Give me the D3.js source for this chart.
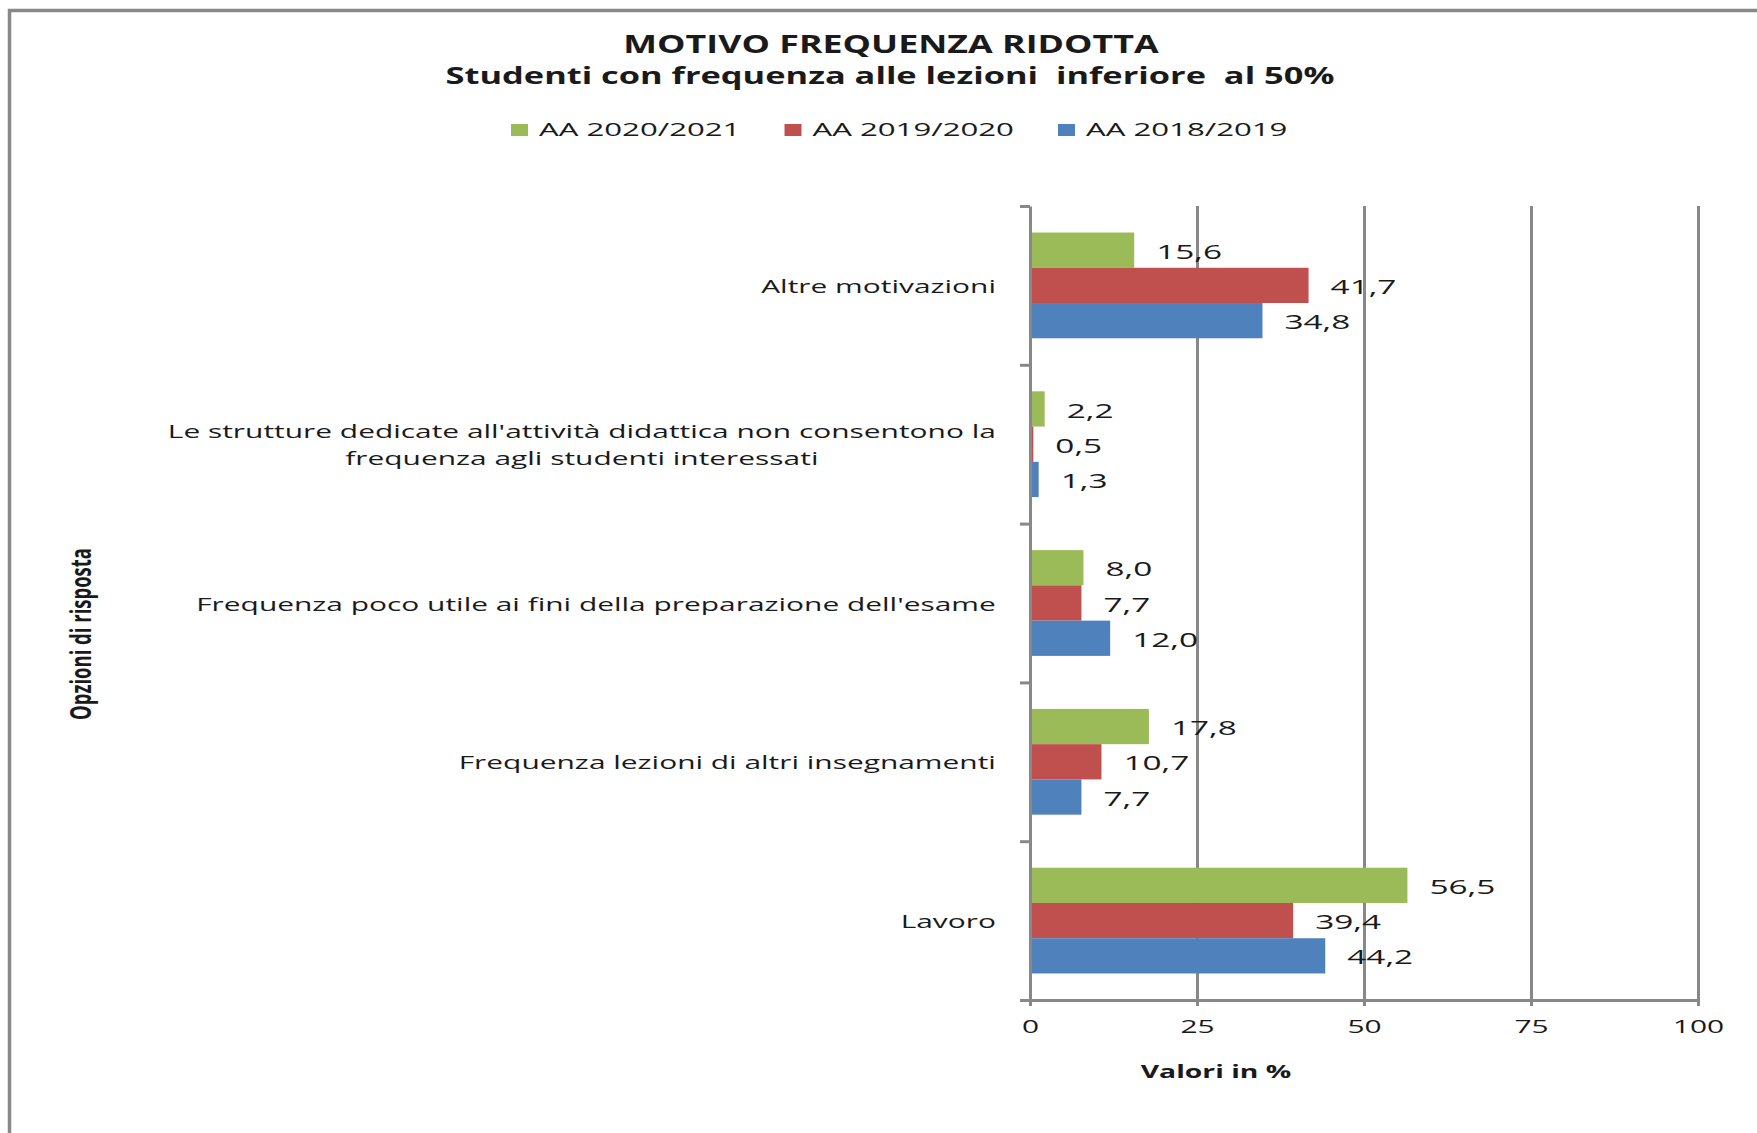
<!DOCTYPE html>
<html>
<head>
<meta charset="utf-8">
<script src="https://cdn.jsdelivr.net/npm/d3@7"></script>
<style>
  body { margin: 0; background: #fff; }
  text { font-family: "Open Sans", sans-serif; fill: #1a1a1a; }
</style>
</head>
<body>
<div id="target"></div>
<script>
const categories = [
  "Altre motivazioni",
  "Le strutture dedicate all'attività didattica non consentono la\nfrequenza agli studenti interessati",
  "Frequenza poco utile ai fini della preparazione dell'esame",
  "Frequenza lezioni di altri insegnamenti",
  "Lavoro"
];
const seriesNames = ["AA 2020/2021", "AA 2019/2020", "AA 2018/2019"];
const seriesColors = ["#9bbb59", "#c0504d", "#4f81bd"];
const aa2021 = [15.6, 2.2, 8.0, 17.8, 56.5];
const aa2020 = [41.7, 0.5, 7.7, 10.7, 39.4];
const aa2019 = [34.8, 1.3, 12.0, 7.7, 44.2];
const xTicks = [0, 25, 50, 75, 100];

const W = 1757, H = 1133;
const margin = {top: 206, right: 59, bottom: 133, left: 1030},
  width = W - margin.left - margin.right,
  height = H - margin.top - margin.bottom;

let svg = d3.select("#target").append("svg")
  .attr("width", W)
  .attr("height", H);

// the picture is stretched sideways, so measure once and stretch all text the same way
let probe = svg.append("text").style("font-size", "19px").text(categories[2]);
const SX = 800 / probe.node().getComputedTextLength();
probe.remove();

const fmt = d3.formatLocale({decimal: ",", thousands: ".", grouping: [3], currency: ["", "€"]}).format(".1f");

// frame (only top and left visible)
svg.append("path")
  .attr("d", `M9.5,${H} V10.5 H${W}`)
  .attr("fill", "none").attr("stroke", "#888").attr("stroke-width", 3.5);

const data = categories.map((c, i) => ({cat: c, values: [aa2021[i], aa2020[i], aa2019[i]]}));

let x = d3.scaleLinear().domain([0, 100]).range([0, width]);
let y = d3.scaleBand().domain(categories).range([0, height])
  .paddingInner(0.334).paddingOuter(0.167);
let y1 = d3.scaleBand().domain(seriesNames).range([0, y.bandwidth()]);
let yb = d3.scaleLinear().domain([0, categories.length]).range([0, height]);

let g = svg.append("g").attr("transform", `translate(${margin.left},${margin.top})`);

// gridlines
g.append("g")
  .attr("class", "grid")
  .attr("transform", `translate(0,${height})`)
  .call(d3.axisBottom(x).tickValues(xTicks.slice(1)).tickSize(-height).tickFormat(""))
  .call(s => s.select(".domain").remove())
  .selectAll("line").attr("stroke", "#888").attr("stroke-width", 3);

// bars
let groups = g.selectAll(".cat").data(data).enter().append("g")
  .attr("transform", d => `translate(0,${y(d.cat)})`);

groups.selectAll("rect")
  .data(d => d.values.map((v, k) => ({v: v, k: k})))
  .enter().append("rect")
  .attr("x", 0)
  .attr("y", d => y1(seriesNames[d.k]))
  .attr("width", d => x(d.v))
  .attr("height", y1.bandwidth())
  .attr("fill", d => seriesColors[d.k]);

groups.selectAll(".val")
  .data(d => d.values.map((v, k) => ({v: v, k: k})))
  .enter().append("text")
  .attr("class", "val")
  .attr("transform", d => `translate(${x(d.v) + 22},${y1(seriesNames[d.k]) + y1.bandwidth() / 2 + 1}) scale(${SX * 1.06},1)`)
  .attr("dominant-baseline", "central")
  .style("font-size", "20px")
  .text(d => fmt(d.v));

// x axis
let xAxis = g.append("g")
  .attr("transform", `translate(0,${height})`)
  .call(d3.axisBottom(x).tickValues(xTicks).tickSize(6).tickSizeOuter(0).tickPadding(14));
xAxis.select(".domain").attr("stroke", "#888").attr("stroke-width", 3);
xAxis.selectAll(".tick line").attr("stroke", "#888").attr("stroke-width", 3);
xAxis.selectAll(".tick text")
  .attr("transform", `scale(${SX},1)`)
  .style("font-size", "19px").style("font-family", "Open Sans").attr("fill", "#1a1a1a");

// y axis: ticks sit between categories
let yAxis = g.append("g")
  .call(d3.axisLeft(yb).ticks(categories.length).tickSize(10).tickSizeOuter(0).tickFormat(""));
yAxis.select(".domain").attr("stroke", "#888").attr("stroke-width", 3);
yAxis.selectAll(".tick line").attr("stroke", "#888").attr("stroke-width", 3);

// category labels
categories.forEach(c => {
  let lines = c.split("\n");
  let t = g.append("text")
    .style("font-size", "19px")
    .attr("text-anchor", "middle");
  lines.forEach((l, i) => {
    t.append("tspan").attr("x", 0).attr("dy", i === 0 ? 0 : 27).text(l);
  });
  let maxW = d3.max(t.selectAll("tspan").nodes(), n => n.getComputedTextLength());
  let cy = y(c) + y.bandwidth() / 2 - (lines.length - 1) * 13.5;
  t.attr("transform", `translate(${-34 - maxW * SX / 2},${cy}) scale(${SX},1)`)
    .attr("dominant-baseline", "central");
  t.selectAll("tspan").attr("dominant-baseline", "central");
});

// axis titles
svg.append("text")
  .attr("transform", `translate(1216,1078) scale(${SX},1)`)
  .attr("text-anchor", "middle")
  .style("font-size", "18px").style("font-weight", "bold")
  .text("Valori in %");

svg.append("text")
  .attr("transform", `translate(80,634) rotate(-90) scale(1,${SX})`)
  .attr("text-anchor", "middle")
  .attr("dominant-baseline", "central")
  .style("font-size", "18.5px").style("font-weight", "bold")
  .text("Opzioni di risposta");

// title
svg.append("text")
  .attr("transform", `translate(891,53) scale(${SX * 0.91},1)`)
  .attr("text-anchor", "middle")
  .style("font-size", "25px").style("font-weight", "bold")
  .text("MOTIVO FREQUENZA RIDOTTA");
svg.append("text")
  .attr("transform", `translate(890,84) scale(${SX * 0.95},1)`)
  .attr("text-anchor", "middle")
  .style("font-size", "23px").style("font-weight", "bold")
  .style("white-space", "pre")
  .text("Studenti con frequenza alle lezioni  inferiore  al 50%");

// legend
let legend = svg.selectAll(".leg").data(seriesNames).enter().append("g")
  .attr("transform", (d, i) => `translate(${511 + i * 273.5},124)`);
legend.append("rect")
  .attr("width", 17).attr("height", 12)
  .attr("fill", (d, i) => seriesColors[i]);
legend.append("text")
  .attr("transform", `translate(28,12) scale(${SX * 1.1},1)`)
  .style("font-size", "18px")
  .text(d => d);
</script>
</body>
</html>
